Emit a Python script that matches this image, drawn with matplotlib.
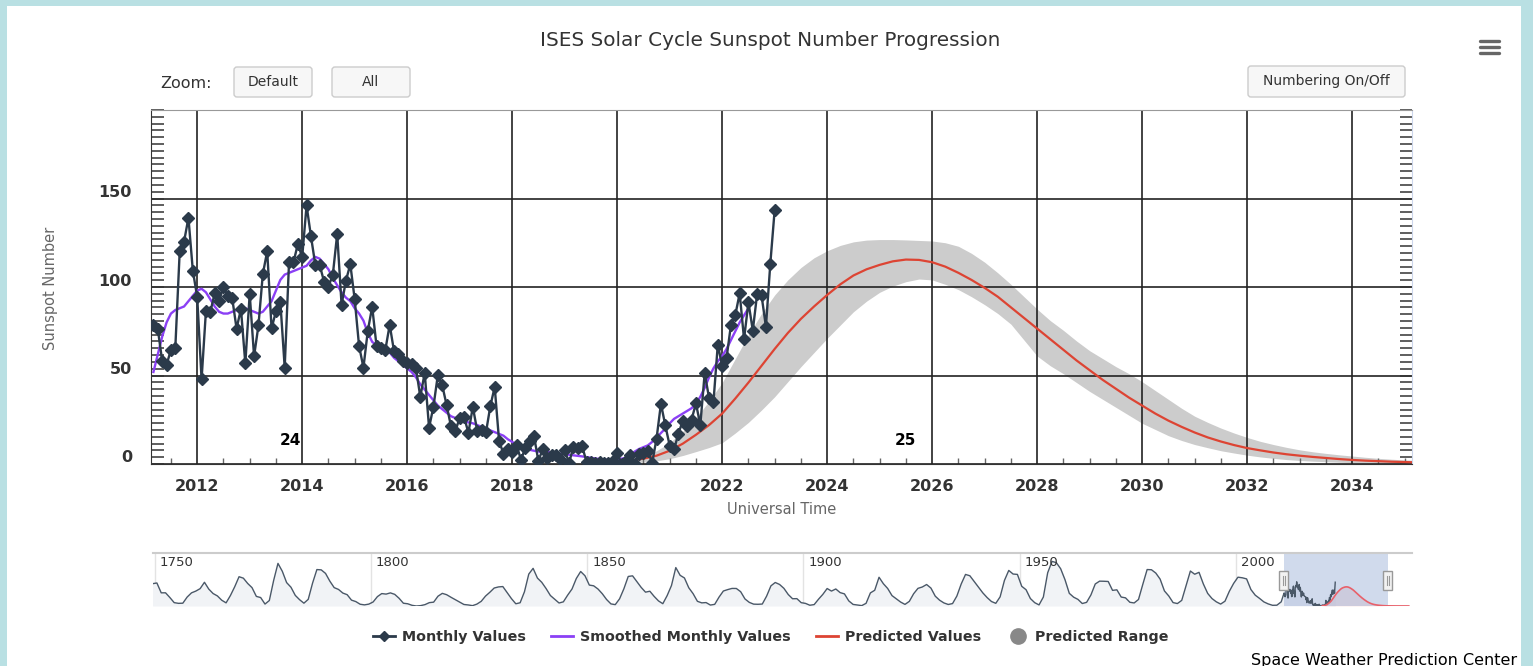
import numpy as np
import matplotlib
matplotlib.use("Agg")
import matplotlib.pyplot as plt
from matplotlib.patches import FancyBboxPatch, Rectangle
from matplotlib.lines import Line2D
from matplotlib.ticker import MultipleLocator, FixedLocator

plt.rcParams['font.family'] = ['DejaVu Sans']

W, H = 1533, 666

# monthly sunspot numbers, first value = March 2011
monthly_start = 2011 + 2 / 12
monthly_values = [
    78.6, 76.1, 58.2, 56.1, 64.5, 65.8, 120.1, 125.7, 139.1, 109.3,
    94.4, 47.8, 86.6, 85.9, 96.5, 92.0, 100.1, 94.8, 93.7, 76.5, 87.6, 56.8,
    96.1, 60.9, 78.3, 107.3, 120.2, 76.7, 86.2, 91.8, 54.5, 114.4, 113.9, 124.2,
    117.0, 146.1, 128.7, 112.5, 112.5, 102.9, 100.2, 106.9, 130.0, 90.0, 103.6, 112.9,
    93.0, 66.7, 54.5, 75.3, 88.8, 66.5, 65.8, 64.4, 78.6, 63.6, 62.2, 58.0,
    57.0, 56.4, 54.1, 37.9, 51.5, 20.5, 32.4, 50.2, 44.6, 33.4, 21.4, 18.5,
    26.1, 26.4, 17.7, 32.3, 18.9, 19.2, 17.8, 32.6, 43.6, 13.2, 5.7, 8.2,
    6.8, 10.7, 2.5, 8.9, 13.1, 15.6, 1.6, 8.7, 3.3, 4.9, 4.9, 3.1,
    7.7, 0.8, 9.4, 9.1, 9.9, 1.2, 0.9, 0.5, 1.1, 0.4, 0.5, 1.5,
    6.2, 0.2, 1.5, 5.2, 0.2, 5.8, 6.1, 7.5, 0.6, 14.4, 34.0, 21.8,
    10.4, 8.2, 17.2, 24.5, 21.2, 25.0, 34.3, 22.0, 51.3, 37.4, 34.8, 67.5,
    55.3, 59.9, 78.5, 84.1, 96.5, 70.5, 91.4, 75.4, 96.3, 95.2, 77.6, 113.1,
    143.6,
]

# smoothed monthly values, March 2011 .. July 2022
smoothed_values = [
    52, 62, 72, 80, 85, 87, 88, 89, 92, 95,
    98, 99, 97, 93, 89, 86, 85, 85, 86, 87, 88, 88,
    87, 86, 85, 86, 89, 92, 98, 104, 107, 108, 109, 110,
    111, 112, 115, 117, 116, 113, 110, 105, 101, 97, 94, 92,
    88, 85, 81, 74, 69, 67, 66, 65, 63, 60, 58, 56,
    54, 52, 49, 45, 42, 39, 36, 33, 31, 29, 27, 26,
    25, 24, 23.5, 23, 22, 21, 20, 19, 18, 17, 16, 14,
    12.5, 11, 9.5, 8.5, 8, 7.5, 7, 7, 7, 6.5, 6, 5.8,
    5.5, 5.2, 4.9, 4.6, 4.3, 3.9, 3.5, 3.1, 2.8, 2.5, 2.3, 2.2,
    2.5, 3, 3.5, 5, 7, 8.5, 9.5, 10.5, 12.5, 15, 17.5, 20,
    23, 25.5, 27, 28.5, 30, 31.5, 34, 38, 43, 49, 54, 58,
    61, 65, 70, 75, 80, 84, 88,
]

# cycle 25 prediction, quarterly from 2020.0 to 2035.5, then two tail points
pred_years = [2020 + q / 4 for q in range(63)] + [2037.0, 2040.0]
pred_values = [
    1.5, 2.0, 3.0, 4.7, 7.5, 11.5, 16.5, 22,
    28.5, 37, 46, 55.5, 65, 74, 82, 89,
    95.5, 101.5, 106.5, 110, 112.5, 114.5, 115.5, 115.3,
    114, 111.5, 108, 104, 99.5, 94.5, 88.5, 82.5,
    76.5, 70.5, 64.5, 58.5, 53, 47.5, 42.5, 37.5,
    33, 28.5, 24.5, 21, 17.8, 15, 12.7, 10.7,
    9.0, 7.7, 6.5, 5.5, 4.7, 4.0, 3.4, 2.8,
    2.3, 1.9, 1.6, 1.3, 1.1, 0.9, 0.8,
    0.4, 0.2,
]
pred_high = [
    1.5, 2.5, 4, 7.5, 12, 18.5, 26, 35.5,
    46, 59.5, 73, 85, 95.5, 104, 111, 116.5,
    120.5, 123.5, 125.5, 126.5, 126.8, 126.8, 126.6, 126.3,
    126, 125, 123, 119, 114, 108, 101.5, 94.5,
    87.5, 81, 75.5, 69.5, 64, 59.5, 55, 51,
    46.5, 41.5, 36.5, 31.5, 27, 23.5, 20.3, 17.5,
    15, 12.8, 11, 9.4, 8, 6.9, 6, 5.2,
    4.5, 3.8, 3.2, 2.7, 2.3, 2.0, 1.8,
    1.0, 0.5,
]
pred_low = [
    0.5, 0.7, 1.0, 1.8, 3, 4.8, 7, 9.3,
    12, 17.5, 23.5, 30.5, 38, 46.5, 55, 63,
    71, 78.5, 86, 92, 97, 100.5, 103, 104.5,
    104, 101.5, 98.5, 94.5, 90, 85, 79, 70,
    61, 55.5, 51, 46, 41, 36.5, 32, 27.5,
    23, 19.5, 16, 13.3, 11, 9.2, 7.5, 6.2,
    5, 4, 3.2, 2.5, 2, 1.6, 1.3, 1.0,
    0.8, 0.6, 0.5, 0.4, 0.3, 0.25, 0.2,
    0.1, 0.0,
]

# yearly means for the navigator, 1749 .. 2010
yearly_start = 1749
yearly_values = [
    134.7, 139.0, 79.5, 79.7, 51.2, 20.3, 16.0, 17.0, 54.0, 79.3, 90.0, 104.8,
    143.2, 102.0, 75.2, 60.7, 34.8, 19.0, 63.0, 116.3, 176.8, 168.0, 136.0, 110.8,
    58.0, 51.0, 11.7, 33.0, 154.2, 257.3, 209.8, 141.3, 113.5, 64.2, 38.0, 17.0,
    40.2, 138.2, 220.0, 218.2, 196.8, 149.8, 111.0, 100.0, 78.2, 68.3, 35.5, 26.7,
    10.7, 6.8, 11.3, 24.2, 56.7, 75.0, 71.8, 79.2, 70.3, 46.8, 16.8, 13.5,
    4.2, 0.0, 2.3, 8.3, 20.3, 23.2, 59.0, 76.3, 68.3, 52.9, 38.5, 24.2,
    9.2, 6.3, 2.2, 11.4, 28.2, 59.9, 83.0, 108.5, 115.2, 117.4, 80.8, 44.3,
    13.4, 19.5, 85.8, 192.7, 227.3, 168.7, 143.0, 105.5, 63.3, 40.3, 18.1, 25.1,
    65.8, 102.7, 166.3, 208.3, 182.5, 126.3, 122.0, 102.7, 74.1, 39.0, 12.7, 8.2,
    43.4, 104.4, 178.3, 182.2, 146.6, 112.1, 83.5, 89.2, 57.8, 30.7, 13.9, 62.8,
    123.6, 232.0, 185.3, 169.2, 110.1, 74.5, 28.3, 18.9, 20.7, 5.7, 10.0, 53.7,
    90.5, 99.0, 106.1, 105.8, 86.3, 42.4, 21.8, 11.2, 10.4, 11.8, 59.5, 121.7,
    142.0, 130.0, 106.6, 69.4, 43.8, 44.4, 20.2, 15.7, 4.6, 8.5, 40.8, 70.1,
    105.5, 90.1, 102.8, 80.9, 73.2, 30.9, 9.5, 6.0, 2.4, 16.1, 79.0, 95.0,
    173.6, 134.6, 105.7, 62.7, 43.5, 23.7, 9.7, 27.9, 74.0, 106.5, 114.7, 129.7,
    108.2, 59.4, 35.1, 18.6, 9.2, 14.6, 60.2, 132.8, 190.6, 182.6, 148.0, 113.0,
    79.2, 50.8, 27.1, 16.1, 55.3, 154.3, 214.7, 193.0, 190.7, 118.9, 98.3, 45.0,
    20.1, 6.6, 54.2, 200.7, 269.3, 261.7, 225.1, 159.0, 76.4, 53.4, 39.9, 15.0,
    22.0, 66.8, 132.9, 150.0, 149.4, 148.0, 94.4, 97.6, 54.1, 49.2, 22.5, 18.4,
    39.3, 131.0, 220.1, 218.9, 198.9, 162.4, 91.0, 60.5, 20.6, 14.8, 33.9, 123.0,
    211.1, 191.8, 203.3, 133.0, 76.1, 44.9, 25.1, 11.6, 28.9, 88.3, 136.3, 173.9,
    170.4, 163.6, 99.3, 65.3, 45.8, 24.7, 12.6, 4.2, 4.8, 24.9,
]

x_range = (2011.12, 2035.14)
cycle_labels = [("24", 2013.77, 13.5), ("25", 2025.49, 13.5)]

monthly_x = monthly_start + np.arange(len(monthly_values)) / 12
smoothed_x = monthly_start + np.arange(len(smoothed_values)) / 12
yearly_x = yearly_start + 0.5 + np.arange(len(yearly_values))

dark = '#2b3a4a'
purple = '#8b40f5'
red = '#dd4433'

fig = plt.figure(figsize=(W / 100, H / 100), dpi=100)
fig.patch.set_facecolor('white')

# overlay in pixel coords for the page furniture
ov = fig.add_axes([0, 0, 1, 1])
ov.set_xlim(0, W)
ov.set_ylim(H, 0)
ov.axis('off')
cyan = '#b9e0e3'
ov.add_patch(Rectangle((0, 0), W, 6, color=cyan, lw=0))
ov.add_patch(Rectangle((0, 0), 7, H, color=cyan, lw=0))
ov.add_patch(Rectangle((W - 12, 0), 12, H, color=cyan, lw=0))

for (x0, x1, y0, y1, label) in [(234, 312, 67, 97, 'Default'), (332, 410, 67, 97, 'All'),
                                (1248, 1405, 66, 97, 'Numbering On/Off')]:
    ov.add_patch(FancyBboxPatch((x0, y0), x1 - x0, y1 - y0,
                                boxstyle='round,pad=0,rounding_size=3',
                                fc='#f7f7f7', ec='#cccccc', lw=1))
    ov.text((x0 + x1) / 2, (y0 + y1) / 2, label, ha='center', va='center',
            fontsize=10, color='#333333')
ov.text(160, 84, 'Zoom:', ha='left', va='center', fontsize=11.5, color='#333333')
for yy in (41, 47, 53):
    ov.plot([1480, 1499], [yy, yy], color='#666666', lw=2.4, solid_capstyle='round')

fig.text(770 / W, 1 - 41 / H, 'ISES Solar Cycle Sunspot Number Progression',
         ha='center', va='center', fontsize=14.4, color='#333333')

# main chart
ax = fig.add_axes([151 / W, 1 - 464 / H, (1412 - 151) / W, (464 - 110) / H])
ax.fill_between(pred_years, pred_low, pred_high, color='#cccccc', lw=0, zorder=1)
ax.plot(pred_years, pred_values, color=red, lw=1.6, zorder=3)
ax.plot(smoothed_x, smoothed_values, color=purple, lw=1.7, zorder=4)
ax.plot(monthly_x, monthly_values, color=dark, lw=1.7, marker='D', ms=6, zorder=5)

ax.set_xlim(*x_range)
ax.set_ylim(0, 200)
ax.xaxis.set_major_locator(MultipleLocator(2))
ax.xaxis.set_minor_locator(MultipleLocator(0.5))
ax.yaxis.set_major_locator(FixedLocator([0, 50, 100, 150]))
ax.yaxis.set_minor_locator(MultipleLocator(50 / 13))
ax.grid(True, which='major', color='#222222', lw=1.2)
ax.tick_params(axis='x', which='major', length=0, pad=11, labelsize=11.5, labelcolor='#333333')
ax.tick_params(axis='x', which='minor', direction='in', length=4.5, width=1, color='#666666')
ax.tick_params(axis='y', which='both', direction='in', length=9, width=1.1, color='#333333',
               left=True, right=True, labelleft=False)
for lab in ax.get_xticklabels():
    lab.set_fontweight('bold')
for v in [0, 50, 100, 150]:
    ax.annotate(str(v), xy=(0, v), xycoords=('axes fraction', 'data'), xytext=(-19, 6),
                textcoords='offset pixels', ha='right', va='center', fontsize=11.5,
                fontweight='bold', color='#333333')
for txt, cx, cy in cycle_labels:
    ax.text(cx, cy, txt, ha='center', va='center', fontsize=11, fontweight='bold', color='black')

ax.spines['left'].set_color('#333333')
ax.spines['bottom'].set_color('#333333')
ax.spines['top'].set_color('#999999')
ax.spines['right'].set_color('#ccd6eb')

fig.text(50 / W, 1 - 288 / H, 'Sunspot Number', rotation=90, ha='center', va='center',
         fontsize=10.5, color='#666666')
fig.text(782 / W, 1 - 510 / H, 'Universal Time', ha='center', va='center',
         fontsize=10.5, color='#666666')

# navigator
nav = fig.add_axes([153 / W, 1 - 606 / H, (1412 - 153) / W, 53 / H])
nav_x = np.concatenate([yearly_x, monthly_x])
nav_y = np.concatenate([yearly_values, monthly_values])
nav.fill_between(nav_x, 0, nav_y, color='#f1f3f6', lw=0, zorder=1)
nav.plot(nav_x, nav_y, color='#4a5868', lw=1, zorder=3)
nav.fill_between(pred_years, 0, pred_values, color='#f6dcdc', lw=0, alpha=0.6, zorder=1)
nav.plot(pred_years, pred_values, color='#e8606a', lw=1.2, zorder=3)
nav.set_xlim(1749.6, 2040.75)
nav.set_ylim(0, 320)
nav.axvspan(x_range[0], x_range[1], color='#6685c2', alpha=0.3, lw=0, zorder=2)
for yr in range(1750, 2001, 50):
    nav.axvline(yr, color='#e3e3e3', lw=1, zorder=0)
    nav.annotate(str(yr), xy=(yr, 1), xycoords=('data', 'axes fraction'), xytext=(5, -10),
                 textcoords='offset pixels', ha='left', va='center', fontsize=9.5, color='#333333')
nav.set_xticks([])
nav.set_yticks([])
for s in ['left', 'right', 'bottom']:
    nav.spines[s].set_visible(False)
nav.spines['top'].set_color('#cccccc')
nav.spines['top'].set_linewidth(1.5)

# navigator handles
fig.canvas.draw()
for xv in x_range:
    px = nav.transData.transform((xv, 0))[0]
    ov.add_patch(Rectangle((px - 4.5, 571), 9, 19, fc='#f2f2f2', ec='#999999', lw=1, zorder=5))
    ov.plot([px - 1.2, px - 1.2], [576, 585], color='#999999', lw=0.8, zorder=6)
    ov.plot([px + 1.2, px + 1.2], [576, 585], color='#999999', lw=0.8, zorder=6)
ov.set_zorder(10)
ov.patch.set_alpha(0)

handles = [Line2D([], [], color=dark, lw=2, marker='D', ms=5.5),
           Line2D([], [], color=purple, lw=2),
           Line2D([], [], color=red, lw=2),
           Line2D([], [], color='#888888', marker='o', ms=11, lw=0)]
labels = ['Monthly Values', 'Smoothed Monthly Values', 'Predicted Values', 'Predicted Range']
fig.legend(handles, labels, loc='center', bbox_to_anchor=(771 / W, 1 - 637 / H), ncol=4,
           frameon=False, prop={'weight': 'bold', 'size': 10.3}, labelcolor='#333333',
           handlelength=1.5, handletextpad=0.5, columnspacing=1.8)

fig.text(1517 / W, 1 - 660 / H, 'Space Weather Prediction Center', ha='right', va='center',
         fontsize=11.5, color='black')

fig.savefig('out.png', dpi=100)
